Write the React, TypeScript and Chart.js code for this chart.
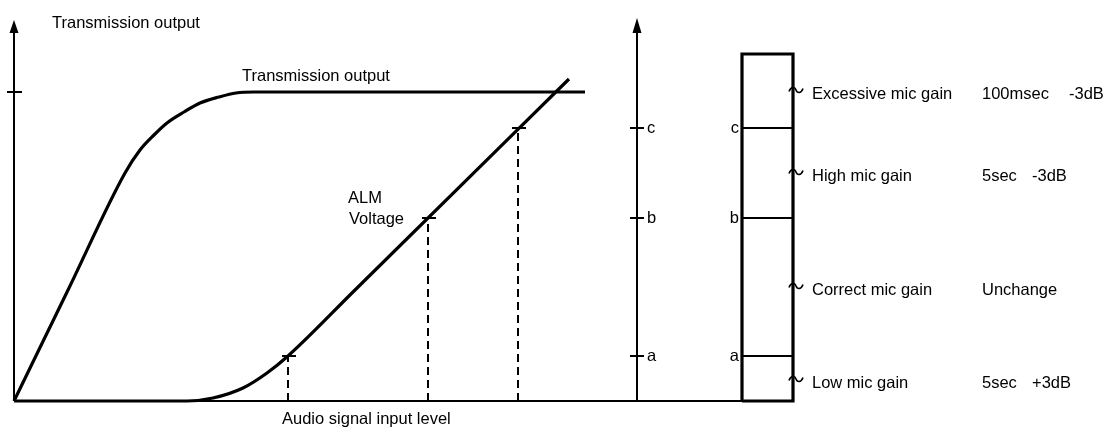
import { useEffect, useRef } from "react";
import { Chart, registerables } from "chart.js";

Chart.register(...registerables);

// Units: x = audio signal input level, y = level above the baseline (0)
const transmissionCurve: [number, number][] = [
  [0, 0], [55, 113], [111, 228], [126, 251], [140, 266], [153, 278],
  [170, 289], [186, 298], [205, 304], [222, 308], [240, 309], [571, 309],
];
const almCurve: [number, number][] = [
  [0, 0], [173, 0], [199, 3], [229, 13], [253, 28], [274, 45], [340, 110], [555, 322],
];
const thresholdNames = ["a", "b", "c"];
const thresholdInputs = [274, 414, 504];
const thresholdLevels = [45, 183, 273];
const transmissionMax = 309;

const inputAxisEnd = 728;
const levelAxisTop = 370;
const levelAxisArrowTip = 381;
const voltageAxisX = 623;
const voltageAxisArrowTip = 383;

const boxLeft = 728;
const boxRight = 779;
const boxTop = 347;

const zoneNames = ["Excessive mic gain", "High mic gain", "Correct mic gain", "Low mic gain"];
const zoneTimes = ["100msec", "5sec", "Unchange", "5sec"];
const zoneGains = ["-3dB", "-3dB", "", "+3dB"];
const zoneLevels = [311, 229, 115, 22];

const FONT = '16.5px "Liberation Sans", Arial, Helvetica, sans-serif';

type Txt = { t: string; x: number; y: number; align: CanvasTextAlign };

export default function App() {
  const ref = useRef<HTMLCanvasElement | null>(null);

  useEffect(() => {
    if (!ref.current) return;
    const black = "#000";
    const seg = (pts: [number, number][], w: number, extra: any = {}) => ({
      data: pts.map(([x, y]) => ({ x, y })),
      showLine: true,
      borderColor: black,
      borderWidth: w,
      pointRadius: 0,
      fill: false,
      ...extra,
    });

    const datasets: any[] = [];
    // axes
    datasets.push(seg([[0, 0], [0, levelAxisTop]], 2));
    datasets.push(seg([[0, 0], [inputAxisEnd, 0]], 2));
    datasets.push(seg([[-7, transmissionMax], [8, transmissionMax]], 2));
    datasets.push(seg([[voltageAxisX, 0], [voltageAxisX, levelAxisTop]], 2));
    thresholdLevels.forEach((lv) => {
      datasets.push(seg([[voltageAxisX - 7, lv], [voltageAxisX + 7, lv]], 2));
      datasets.push(seg([[boxLeft, lv], [boxRight, lv]], 2));
    });
    // box
    datasets.push(
      seg([[boxLeft, 0], [boxLeft, boxTop], [boxRight, boxTop], [boxRight, 0], [boxLeft, 0]], 3.2)
    );
    // curves
    datasets.push(seg(transmissionCurve, 3.2, { cubicInterpolationMode: "monotone" }));
    datasets.push(seg(almCurve, 3.2, { cubicInterpolationMode: "monotone" }));
    // threshold markers + dashed drops
    thresholdInputs.forEach((x, i) => {
      const lv = thresholdLevels[i];
      datasets.push(seg([[x - 6, lv], [x + 8, lv]], 2));
      datasets.push(seg([[x, 0], [x, lv]], 2, { borderDash: [8, 5] }));
    });

    const texts: Txt[] = [
      { t: "Transmission output", x: 38, y: 373, align: "left" },
      { t: "Transmission output", x: 228, y: 320, align: "left" },
      { t: "ALM", x: 334, y: 198, align: "left" },
      { t: "Voltage", x: 335, y: 177, align: "left" },
      { t: "Audio signal input level", x: 268, y: -23, align: "left" },
    ];
    thresholdNames.forEach((n, i) => {
      texts.push({ t: n, x: voltageAxisX + 10, y: thresholdLevels[i] - 5, align: "left" });
      texts.push({ t: n, x: boxLeft - 3, y: thresholdLevels[i] - 5, align: "right" });
    });
    zoneNames.forEach((n, i) => {
      const y = zoneLevels[i] - 9;
      texts.push({ t: n, x: 798, y, align: "left" });
      texts.push({ t: zoneTimes[i], x: 968, y, align: "left" });
      if (zoneGains[i]) texts.push({ t: zoneGains[i], x: i === 0 ? 1055 : 1018, y, align: "left" });
    });

    const arrows = [
      { x: 0, base: levelAxisTop - 2, tip: levelAxisArrowTip },
      { x: voltageAxisX, base: levelAxisTop - 2, tip: voltageAxisArrowTip },
    ];

    const overlay = {
      id: "overlay",
      afterDatasetsDraw(chart: any) {
        const { ctx, scales } = chart;
        const sx = scales.x, sy = scales.y;
        ctx.save();
        ctx.fillStyle = black;
        ctx.strokeStyle = black;
        arrows.forEach((a) => {
          const px = sx.getPixelForValue(a.x);
          const tip = sy.getPixelForValue(a.tip);
          const base = sy.getPixelForValue(a.base);
          ctx.beginPath();
          ctx.moveTo(px, tip);
          ctx.lineTo(px - 4.5, base);
          ctx.lineTo(px + 4.5, base);
          ctx.closePath();
          ctx.fill();
        });
        // tildes on the right edge of the box
        ctx.lineWidth = 1.6;
        zoneLevels.forEach((lv) => {
          const cx = sx.getPixelForValue(boxRight) + 3;
          const cy = sy.getPixelForValue(lv);
          ctx.beginPath();
          ctx.moveTo(cx - 7, cy + 1.5);
          ctx.bezierCurveTo(cx - 5, cy - 4, cx - 1, cy - 3, cx, cy);
          ctx.bezierCurveTo(cx + 1, cy + 3, cx + 5, cy + 4, cx + 7, cy - 1.5);
          ctx.stroke();
        });
        ctx.font = FONT;
        ctx.textBaseline = "alphabetic";
        texts.forEach((t) => {
          ctx.textAlign = t.align;
          ctx.fillText(t.t, sx.getPixelForValue(t.x), sy.getPixelForValue(t.y));
        });
        ctx.restore();
      },
    };

    const chart = new Chart(ref.current, {
      type: "scatter",
      data: { datasets },
      options: {
        animation: false,
        responsive: false,
        layout: { padding: 0 },
        plugins: { legend: { display: false }, tooltip: { enabled: false } },
        events: [],
        scales: {
          x: { type: "linear", min: -14, max: 1092, display: false },
          y: { type: "linear", min: -26, max: 401, display: false },
        },
      },
      plugins: [overlay],
    });
    return () => chart.destroy();
  }, []);

  return (
    <div style={{ position: "fixed", left: 0, top: 0, width: 1106, height: 427, background: "#fff" }}>
      <canvas ref={ref} width={1106} height={427} style={{ display: "block" }} />
    </div>
  );
}
